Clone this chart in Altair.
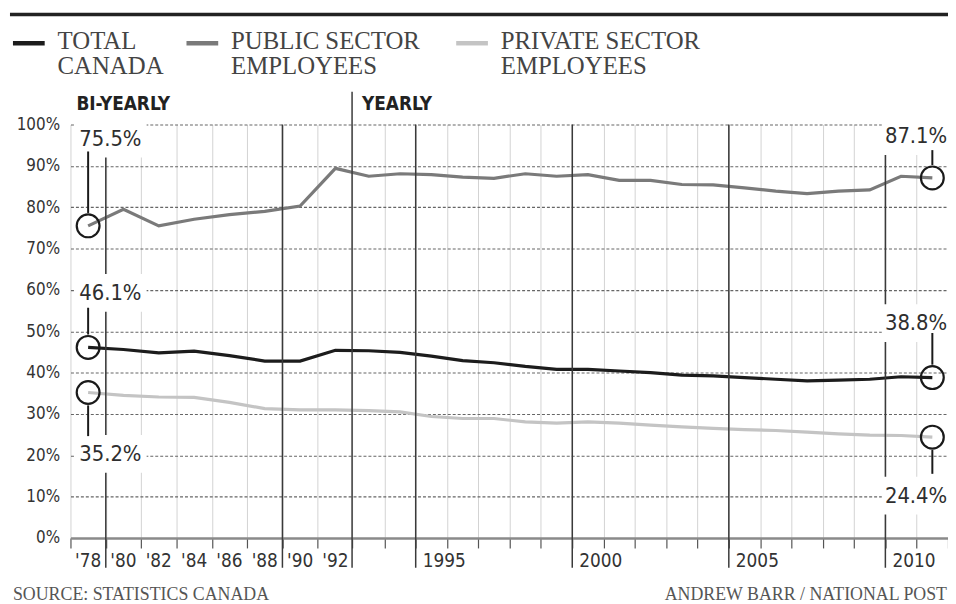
import altair as alt
import pandas as pd

# ---------------- data ----------------
years = [1978, 1980, 1982, 1984, 1986, 1988, 1990, 1992,
         1993, 1994, 1995, 1996, 1997, 1998, 1999, 2000, 2001, 2002,
         2003, 2004, 2005, 2006, 2007, 2008, 2009, 2010, 2011]
total = [46.1, 45.6, 44.8, 45.2, 44.1, 42.8, 42.8, 45.4,
         45.3, 44.9, 44.0, 42.9, 42.4, 41.5, 40.8, 40.8, 40.4, 40.0,
         39.4, 39.2, 38.8, 38.4, 38.0, 38.2, 38.4, 39.0, 38.8]
public = [75.5, 79.5, 75.5, 77.1, 78.2, 79.0, 80.3, 89.4,
          87.5, 88.1, 87.9, 87.3, 87.0, 88.1, 87.5, 87.9, 86.5, 86.5,
          85.5, 85.4, 84.7, 83.9, 83.3, 83.9, 84.2, 87.5, 87.1]
private = [35.2, 34.5, 34.1, 34.0, 32.8, 31.3, 31.0, 31.0,
           30.8, 30.5, 29.4, 28.9, 28.9, 28.1, 27.8, 28.1, 27.8, 27.3,
           26.9, 26.5, 26.2, 26.0, 25.6, 25.2, 24.9, 24.8, 24.4]
series_names = ["TOTAL CANADA", "PUBLIC SECTOR EMPLOYEES", "PRIVATE SECTOR EMPLOYEES"]
series_colors = ["#1c1c1c", "#7a7a7a", "#c4c4c4"]

biyear_label_years = [1978, 1980, 1982, 1984, 1986, 1988, 1990, 1992]
biyear_labels = ["'78", "'80", "'82", "'84", "'86", "'88", "'90", "'92"]
year_label_years = [1995, 2000, 2005, 2010]
year_labels = ["1995", "2000", "2005", "2010"]

band_bounds = [1977, 1979, 1981, 1983, 1985, 1987, 1989, 1991, 1992.5,
               1993.5, 1994.5, 1995.5, 1996.5, 1997.5, 1998.5, 1999.5, 2000.5,
               2001.5, 2002.5, 2003.5, 2004.5, 2005.5, 2006.5, 2007.5, 2008.5,
               2009.5, 2010.5, 2011.5]
dark_bounds = [1979, 1989, 1994.5, 1999.5, 2004.5, 2009.5]
yearly_split = [1992.5]

SANS = "DejaVu Sans Condensed"
SERIF = "Liberation Serif"

# ---------------- scales / axes ----------------
xscale = alt.Scale(type="linear", domain=[1977, 1992, 1993, 2011.5],
                   range=[0, 267.2, 300.8, 885], nice=False, zero=False)
yscale = alt.Scale(domain=[0, 100], nice=False, zero=True)

xaxis = alt.Axis(values=band_bounds, labels=False, title=None, tickSize=10,
                 tickColor="#555555", tickWidth=1.2, grid=True, gridColor="#d2d2d2",
                 gridWidth=1, domainColor="#8a8a8a", domainWidth=2.5, zindex=0)
yaxis = alt.Axis(values=list(range(0, 101, 10)), labelExpr="datum.value + '%'",
                 title=None, ticks=False, domain=False, grid=True, gridDash=[3, 2],
                 gridColor="#666666", gridWidth=1.1, labelFont=SANS, labelFontSize=17,
                 labelColor="#333333", labelPadding=11, zindex=0)

rows = []
for name, vals in zip(series_names, [total, public, private]):
    for yr, v in zip(years, vals):
        rows.append({"year": yr, "value": v, "series": name})
df = pd.DataFrame(rows)


def dummy():
    return alt.Chart(pd.DataFrame({"k": [0]}))


def X(f):
    return alt.X(f, scale=xscale, axis=xaxis)


def Y(f):
    return alt.Y(f, scale=yscale, axis=yaxis)


lines = alt.Chart(df).mark_line(strokeWidth=3.2).encode(
    x=X("year:Q"),
    y=Y("value:Q"),
    color=alt.Color("series:N", scale=alt.Scale(domain=series_names, range=series_colors), legend=None),
)

dark = alt.Chart(pd.DataFrame({"year": dark_bounds})).mark_rule(
    color="#3a3a3a", strokeWidth=1.5, y2Offset=30).encode(
    x=X("year:Q"), y=alt.datum(100), y2=alt.datum(0))
split = alt.Chart(pd.DataFrame({"year": yearly_split})).mark_rule(
    color="#3a3a3a", strokeWidth=1.5, yOffset=-33, y2Offset=30).encode(
    x=X("year:Q"), y=alt.datum(100), y2=alt.datum(0))

# x tick labels
bl = pd.DataFrame({"year": biyear_label_years, "lab": biyear_labels})
yl = pd.DataFrame({"year": year_label_years, "lab": year_labels})
xlab1 = alt.Chart(bl).mark_text(font=SANS, fontSize=19, color="#333333", dy=23,
                                baseline="middle").encode(
    x=X("year:Q"), y=alt.datum(0), text="lab:N")
xlab2 = alt.Chart(yl).mark_text(font=SANS, fontSize=19, color="#333333", dy=23, dx=13,
                                baseline="middle").encode(
    x=X("year:Q"), y=alt.datum(0), text="lab:N")

# annotations: (values list, index, leader from, leader to, label dy, side)
ann_specs = [
    (public, 0, -13, -75, -88, "left"),
    (total, 0, -13, -40, -55, "left"),
    (private, 0, 13, 44, 62, "left"),
    (public, -1, -13, -28, -42, "right"),
    (total, -1, -13, -45, -55, "right"),
    (private, -1, 13, 37, 59, "right"),
]
boxes, leaders, labels = [], [], []
pts_rows = []
for vals, idx, l0, l1, dy, side in ann_specs:
    d = pd.DataFrame({"year": [years[idx]], "value": [vals[idx]],
                      "lab": [f"{vals[idx]:.1f}%"]})
    pts_rows.append({"year": years[idx], "value": vals[idx]})
    if side == "left":
        bx0, bx1, tdx, al = -13, 59, -9, "left"
    else:
        bx0, bx1, tdx, al = -51, 16, 15, "right"
    boxes.append(alt.Chart(d).mark_rect(color="white", xOffset=bx0, x2Offset=bx1,
                                        yOffset=dy - 19, y2Offset=dy + 19).encode(
        x=X("year:Q"), x2="year:Q", y=Y("value:Q"), y2="value:Q"))
    leaders.append(alt.Chart(d).mark_rule(color="#1a1a1a", strokeWidth=2,
                                          yOffset=l0, y2Offset=l1).encode(
        x=X("year:Q"), y=Y("value:Q"), y2="value:Q"))
    labels.append(alt.Chart(d).mark_text(font=SANS, fontSize=22, color="#2e2e2e",
                                         align=al, baseline="middle", dx=tdx, dy=dy).encode(
        x=X("year:Q"), y=Y("value:Q"), text="lab:N"))

circles = alt.Chart(pd.DataFrame(pts_rows)).mark_point(
    shape="circle", size=530, filled=False, stroke="#1a1a1a", strokeWidth=2.2, opacity=1).encode(
    x=X("year:Q"), y=Y("value:Q"))

# section titles
bi_t = dummy().mark_text(font=SANS, fontSize=19, fontWeight="bold", color="#222222",
                         align="left", baseline="middle", text="BI-YEARLY").encode(
    x=alt.value(6), y=alt.value(-21))
yr_t = dummy().mark_text(font=SANS, fontSize=19, fontWeight="bold", color="#222222",
                         align="left", baseline="middle", text="YEARLY").encode(
    x=alt.value(294), y=alt.value(-21))

# top rule
top_rule = dummy().mark_rule(color="#222222", strokeWidth=3.5).encode(
    x=alt.value(-61), x2=alt.value(885), y=alt.value(-111))

# legend (manual)
leg_x = [-58, 117, 389]
leg_text = [["TOTAL", "CANADA"], ["PUBLIC SECTOR", "EMPLOYEES"], ["PRIVATE SECTOR", "EMPLOYEES"]]
legend_layers = []
for lx, col, txt in zip(leg_x, series_colors, leg_text):
    legend_layers.append(dummy().mark_rule(color=col, strokeWidth=4.5).encode(
        x=alt.value(lx), x2=alt.value(lx + 32), y=alt.value(-82)))
    for i, line in enumerate(txt):
        legend_layers.append(dummy().mark_text(font=SERIF, fontSize=25, color="#444444",
                                               align="left", baseline="alphabetic",
                                               text=line).encode(
            x=alt.value(lx + 45), y=alt.value(-76 + 25 * i)))

src = dummy().mark_text(font=SERIF, fontSize=18, color="#555555", align="left",
                        baseline="alphabetic", text="SOURCE: STATISTICS CANADA").encode(
    x=alt.value(-58), y=alt.value(479))
auth = dummy().mark_text(font=SERIF, fontSize=18, color="#555555", align="right",
                         baseline="alphabetic", text="ANDREW BARR / NATIONAL POST").encode(
    x=alt.value(884), y=alt.value(479))

chart = alt.layer(
    lines, dark, split, *boxes, xlab1, xlab2, circles, *leaders, *labels,
    bi_t, yr_t, top_rule, *legend_layers, src, auth,
).properties(
    width=885, height=417,
    padding={"left": 63, "top": 115, "right": 0, "bottom": 64},
    autosize=alt.AutoSizeParams(type="none"),
    background="white",
).configure_view(stroke=None)

chart.save("out.html", embed_options={"renderer": "svg", "actions": False})
